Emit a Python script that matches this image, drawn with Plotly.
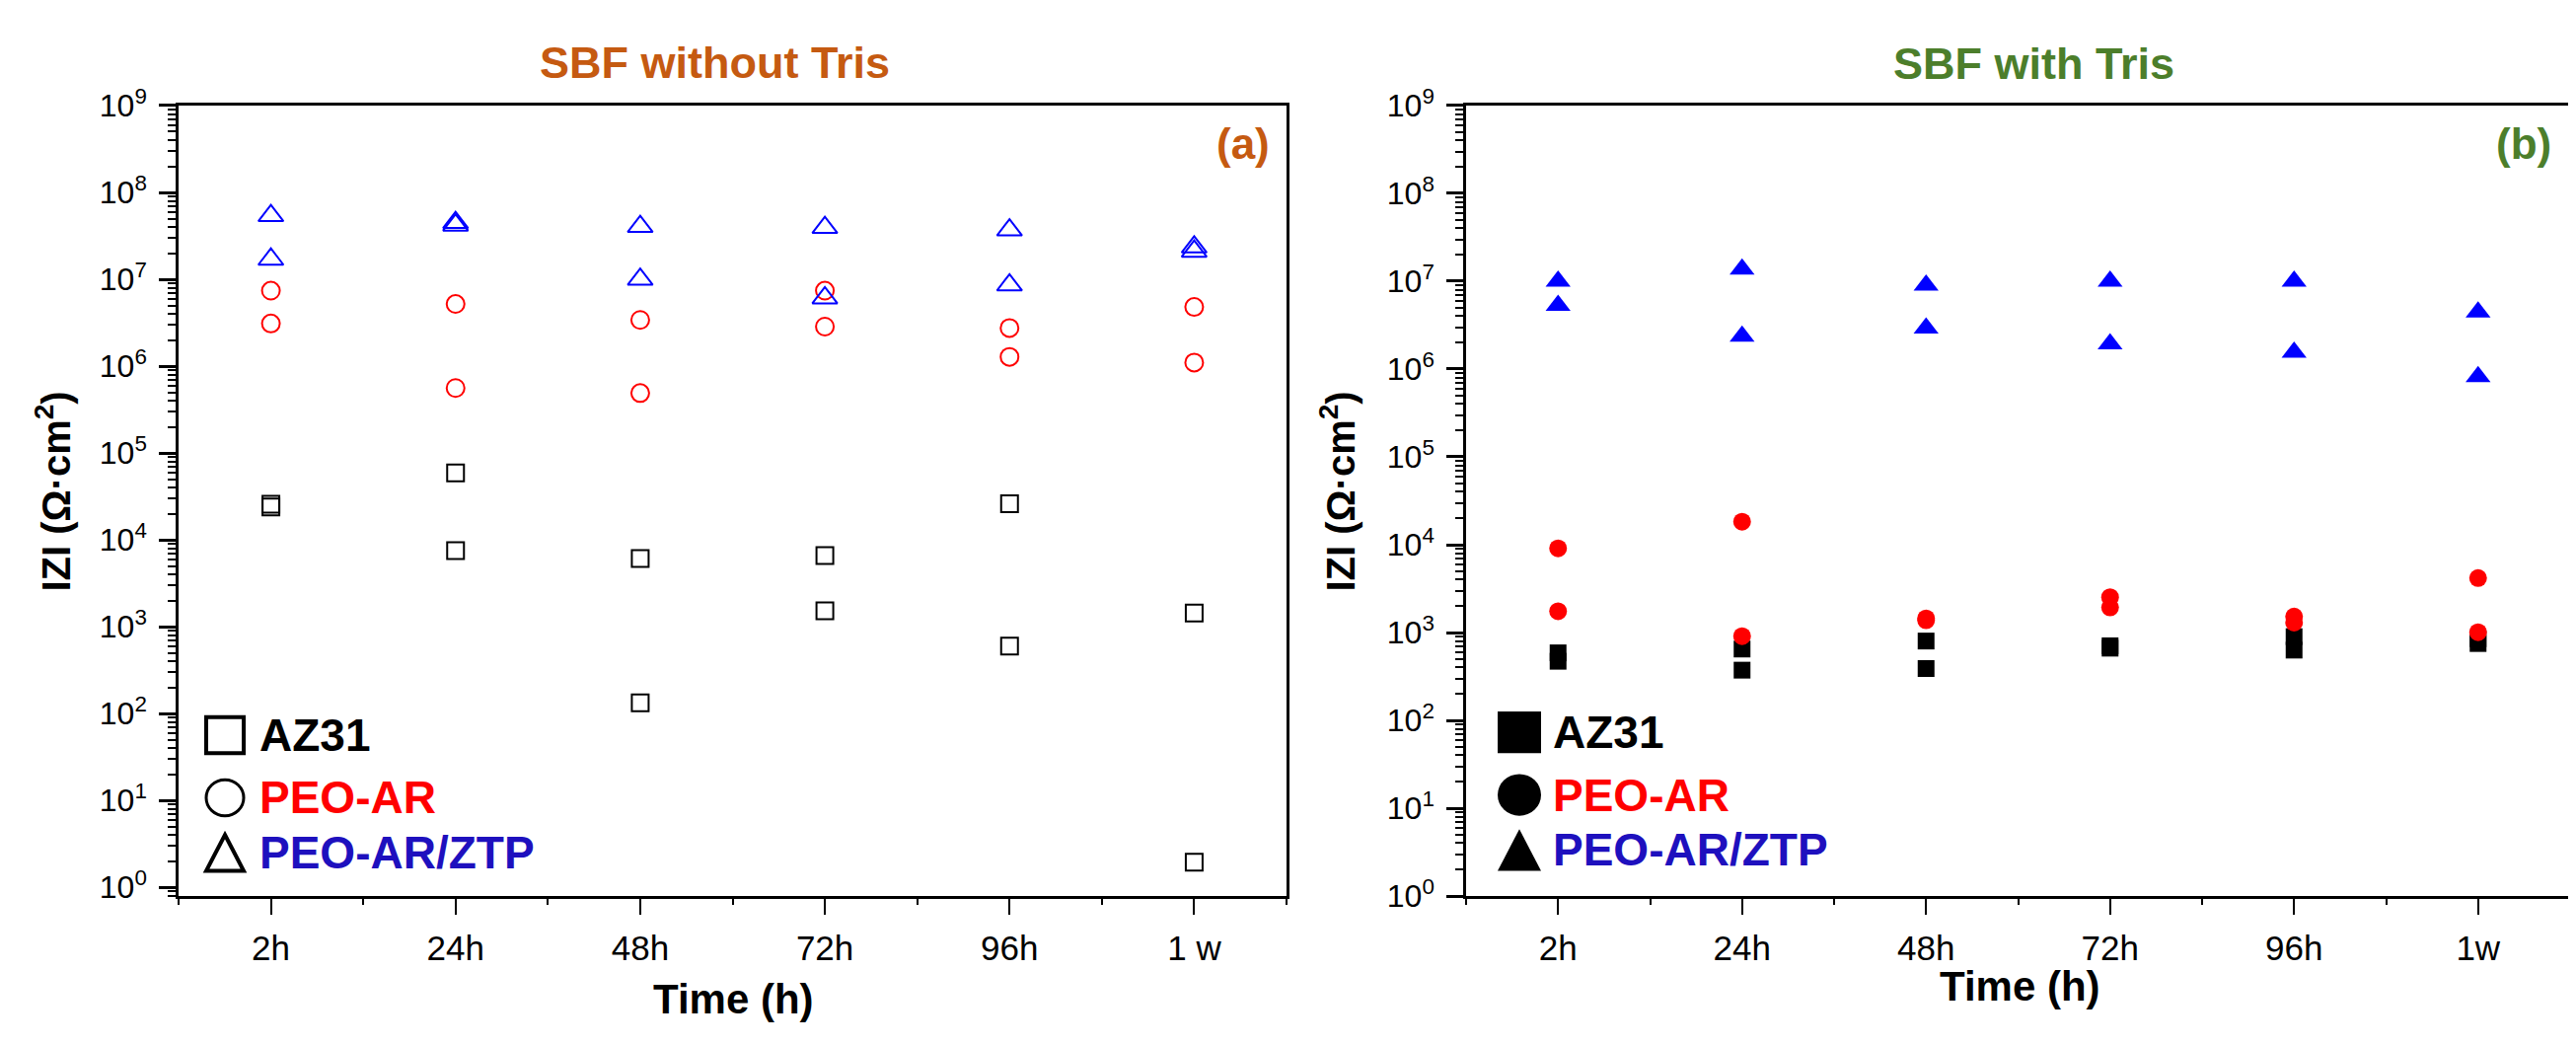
import plotly.graph_objects as go

W, H = 2611, 1059

# time points (x categories)
times_a = ["2h", "24h", "48h", "72h", "96h", "1 w"]
times_b = ["2h", "24h", "48h", "72h", "96h", "1w"]

# (a) SBF without Tris, |Z| in Ohm.cm2, two replicates per time point
az31_a_1 = [2.57e4, 5.9e4, 6.1e3, 6.6e3, 2.6e4, 1.44e3]
az31_a_2 = [2.4e4, 7.5e3, 133, 1.53e3, 600, 1.95]
peo_a_1 = [7.4e6, 5.2e6, 3.4e6, 7.4e6, 2.75e6, 4.8e6]
peo_a_2 = [3.1e6, 5.6e5, 4.9e5, 2.85e6, 1.28e6, 1.1e6]
ztp_a_1 = [5.4e7, 4.5e7, 4.05e7, 3.95e7, 3.7e7, 2.35e7]
ztp_a_2 = [1.7e7, 4.2e7, 1.0e7, 6.1e6, 8.6e6, 2.1e7]

# (b) SBF with Tris
az31_b_1 = [587, 649, 800, 706, 898, 850]
az31_b_2 = [471, 373, 389, 664, 631, 750]
peo_b_1 = [9.1e3, 1.83e4, 1.45e3, 2.53e3, 1.52e3, 4.17e3]
peo_b_2 = [1.75e3, 910, 1.38e3, 1.93e3, 1.3e3, 1.01e3]
ztp_b_1 = [1.0e7, 1.37e7, 9.0e6, 1.0e7, 1.0e7, 4.45e6]
ztp_b_2 = [5.3e6, 2.37e6, 2.93e6, 1.93e6, 1.55e6, 8.2e5]

names = ["AZ31", "PEO-AR", "PEO-AR/ZTP"]
name_colors = ["black", "#FF0000", "#1E10BE"]
marker_colors = ["black", "#FF0000", "#0000FF"]
symbols = ["square", "circle", "triangle-up"]
sizes = [17, 18, 22]

decades = list(range(0, 10))

FONT = "Arial, Liberation Sans, sans-serif"


def px(x):
    return x / W


def py(y):
    return 1 - y / H


fig = go.Figure()

panels = [
    ("x", "y", times_a, [(az31_a_1, az31_a_2), (peo_a_1, peo_a_2), (ztp_a_1, ztp_a_2)], True),
    ("x2", "y2", times_b, [(az31_b_1, az31_b_2), (peo_b_1, peo_b_2), (ztp_b_1, ztp_b_2)], False),
]
for xa, ya, times, series, is_open in panels:
    for i, (r1, r2) in enumerate(series):
        sym = symbols[i] + ("-open" if is_open else "")
        fig.add_trace(go.Scatter(
            x=times + times, y=r1 + r2, mode="markers", name=names[i],
            xaxis=xa, yaxis=ya, showlegend=False, cliponaxis=False,
            marker=dict(symbol=sym, size=sizes[i], color=marker_colors[i],
                        line=dict(width=2 if is_open else 0, color=marker_colors[i]))))

# empty traces so the half-step tick axes exist
fig.add_trace(go.Scatter(x=[], y=[], xaxis="x3", yaxis="y", showlegend=False))
fig.add_trace(go.Scatter(x=[], y=[], xaxis="x4", yaxis="y2", showlegend=False))

ydom = [py(912.5), py(80)]
xdom_a = [px(173), px(1296)]
xdom_b = [px(1478), px(2597)]


def xcat(dom, times):
    return dict(domain=dom, type="category", categoryorder="array", categoryarray=times,
                range=[-0.5, len(times) - 0.5], showline=True, linewidth=2.5, linecolor="black",
                mirror=True, ticks="outside", ticklen=16, tickwidth=2, tickcolor="black",
                showgrid=False, zeroline=False, ticklabelstandoff=4,
                tickfont=dict(family=FONT, size=35, color="black"))


def xhalf(over, ya, n):
    return dict(overlaying=over, anchor=ya, side="bottom", type="linear",
                range=[-0.5, n - 0.5], tickmode="array",
                tickvals=[k - 0.5 for k in range(n + 1)], ticks="outside", ticklen=8,
                tickwidth=2, tickcolor="black", showticklabels=False, showline=False,
                showgrid=False, zeroline=False)


def ylog(dom, lo, minor_extra):
    minor_vals = minor_extra + [m * 10 ** d for d in decades[:-1] for m in range(2, 10)]
    return dict(domain=dom, type="log", range=[lo, 9], tickmode="array",
                tickvals=[10 ** d for d in decades],
                ticktext=["10<sup>%d</sup>" % d for d in decades],
                showline=True, linewidth=2.5, linecolor="black", mirror=True,
                ticks="outside", ticklen=17, tickwidth=2.5, tickcolor="black",
                showgrid=False, zeroline=False, ticklabelstandoff=6,
                tickfont=dict(family=FONT, size=32, color="black"),
                minor=dict(tickmode="array", tickvals=minor_vals, ticks="outside",
                           ticklen=8, tickwidth=2, tickcolor="black", showgrid=False))


fig.update_layout(
    width=W, height=H, margin=dict(l=0, r=0, t=0, b=0),
    paper_bgcolor="white", plot_bgcolor="white", showlegend=False,
    xaxis=dict(xcat(xdom_a, times_a), anchor="y"),
    yaxis=dict(ylog(ydom, -0.1, [0.8, 0.9]), anchor="x"),
    xaxis2=dict(xcat(xdom_b, times_b), anchor="y2"),
    yaxis2=dict(ylog(ydom, 0, []), anchor="x2"),
    xaxis3=xhalf("x", "y", len(times_a)),
    xaxis4=xhalf("x2", "y2", len(times_b)),
)

ann = []
shapes = []


def text(x, y, s, size, color, bold=True, angle=0, xanchor="center"):
    ann.append(dict(x=px(x), y=py(y), xref="paper", yref="paper", text=("<b>%s</b>" % s) if bold else s,
                    showarrow=False, textangle=angle, xanchor=xanchor, yanchor="middle",
                    font=dict(family=FONT, size=size, color=color)))


# panel titles and labels
text(716, 35, "SBF without Tris", 45, "#C55A11")
text(2053, 36, "SBF with Tris", 45, "#4C7E2B")
text(1252, 120, "(a)", 44, "#C55A11")
text(2550, 120, "(b)", 44, "#4C7E2B")
text(735, 1021, "Time (h)", 42, "black")
text(2040, 1008, "Time (h)", 42, "black")
text(46, 487, "IZI (Ω·cm<sup>2</sup>)", 40, "black", angle=-90)
text(1348, 487, "IZI (Ω·cm<sup>2</sup>)", 40, "black", angle=-90)


def legend(cx, half, rows, tx, filled):
    for i, cy in enumerate(rows):
        lw = 0 if filled else 4
        fill = "black" if filled else "rgba(0,0,0,0)"
        h = half - lw / 2
        if symbols[i] == "square":
            shapes.append(dict(type="rect", xref="paper", yref="paper",
                               x0=px(cx - h), x1=px(cx + h), y0=py(cy + h), y1=py(cy - h),
                               line=dict(color="black", width=lw), fillcolor=fill))
        elif symbols[i] == "circle":
            shapes.append(dict(type="circle", xref="paper", yref="paper",
                               x0=px(cx - h), x1=px(cx + h), y0=py(cy + h), y1=py(cy - h),
                               line=dict(color="black", width=3 if not filled else 0), fillcolor=fill))
        else:
            path = "M %f,%f L %f,%f L %f,%f Z" % (px(cx), py(cy - h), px(cx + h), py(cy + h),
                                                  px(cx - h), py(cy + h))
            shapes.append(dict(type="path", xref="paper", yref="paper", path=path,
                               line=dict(color="black", width=lw), fillcolor=fill))
        text(tx, cy, names[i], 46, name_colors[i], xanchor="left")


legend(220, 21, [743, 809, 867], 253, False)
legend(1532, 22, [740, 806, 864], 1564, True)

fig.update_layout(annotations=ann, shapes=shapes)

fig.write_html("out.html")
